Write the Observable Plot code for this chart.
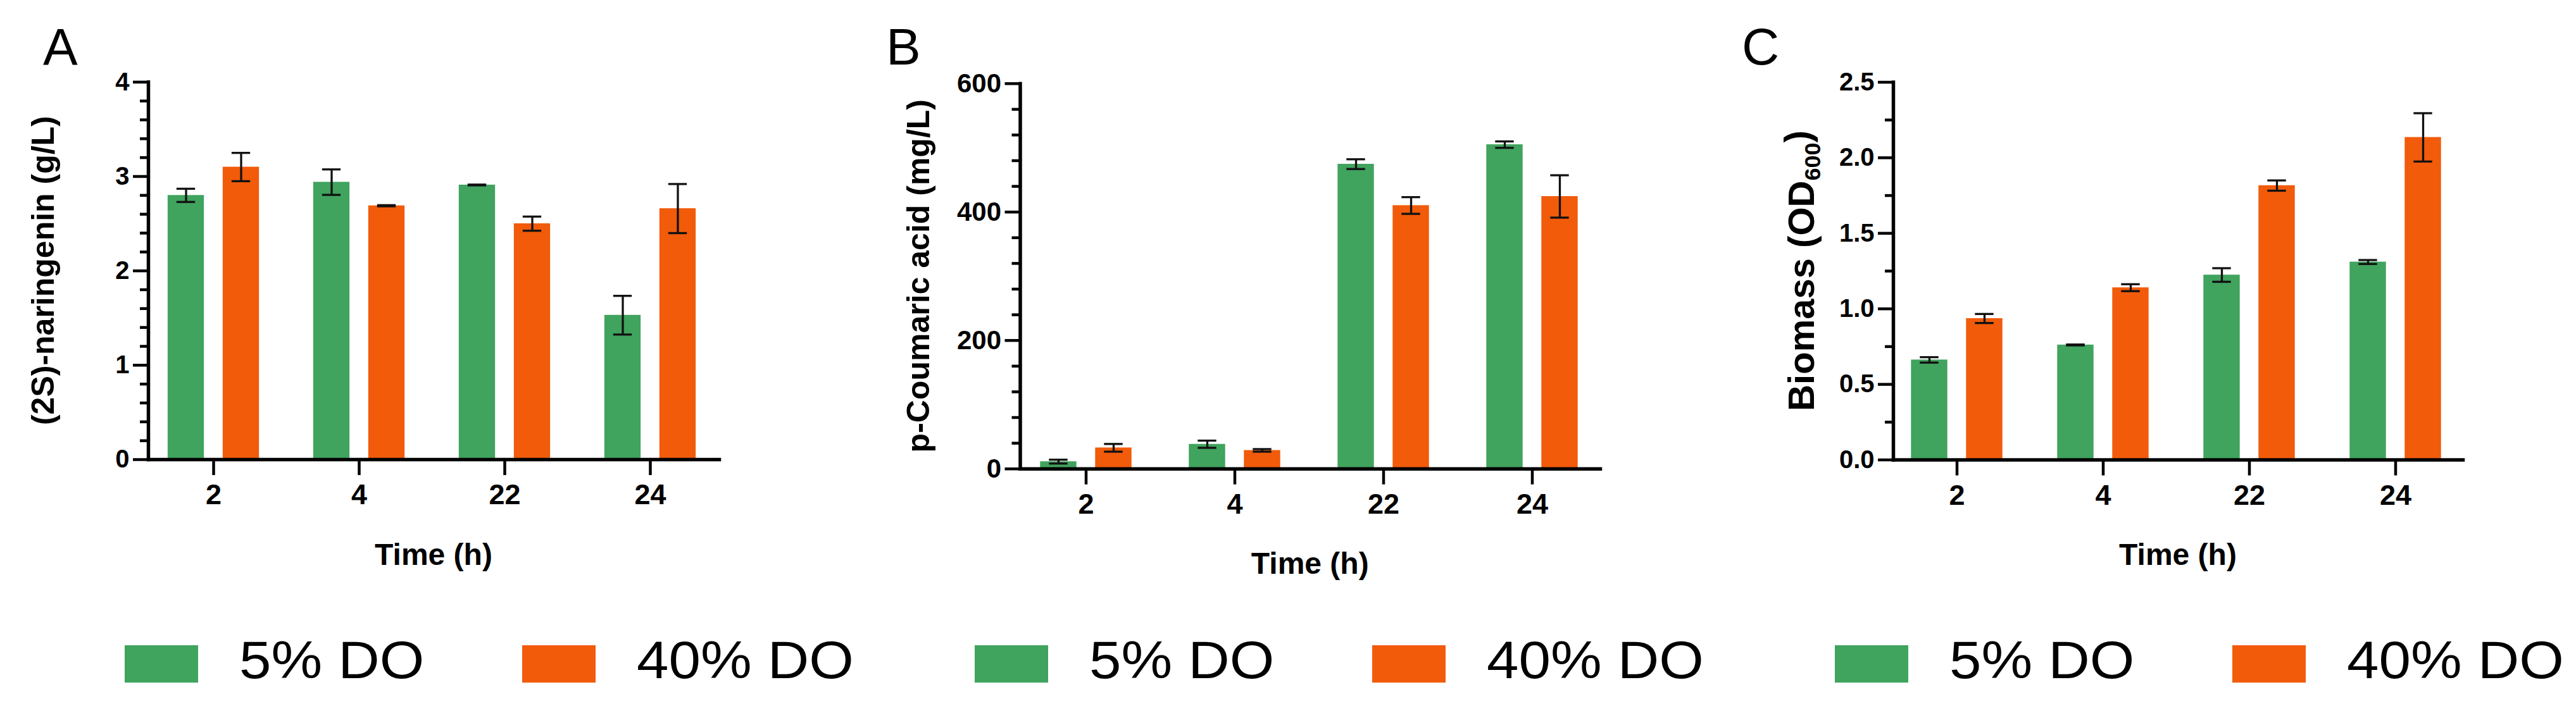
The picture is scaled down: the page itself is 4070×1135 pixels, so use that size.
<!DOCTYPE html>
<html><head><meta charset="utf-8">
<script src="https://cdn.jsdelivr.net/npm/d3@7"></script>
<script src="https://cdn.jsdelivr.net/npm/@observablehq/plot@0.6"></script>
<style>
html,body{margin:0;padding:0;background:#fff;}
#root{position:relative;width:4070px;height:1135px;overflow:hidden;background:#fff;}
.panel{position:absolute;top:0;}
.lg-sw{position:absolute;width:116px;height:59px;top:1020px;}
.lg-tx{position:absolute;top:1001px;font-family:"Liberation Sans",Arial,sans-serif;font-size:84px;line-height:84px;white-space:nowrap;color:#000;transform:scaleX(1.08);transform-origin:0 50%;}
</style></head><body><div id="root"></div>
<script>
// ---------- data ----------
const times = ["2", "4", "22", "24"];
const seriesNames = ["5% DO", "40% DO"];
const seriesColors = ["#40a35e", "#f15b0a"];

// Panel A: (2S)-naringenin (g/L)
const naringenin5 = [2.80, 2.94, 2.91, 1.53];
const naringenin5Err = [0.07, 0.135, 0.004, 0.205];
const naringenin40 = [3.10, 2.69, 2.50, 2.66];
const naringenin40Err = [0.15, 0.006, 0.075, 0.26];
const yTicksA = [0, 1, 2, 3, 4];
const yMinorA = [0.2, 0.4, 0.6, 0.8, 1.2, 1.4, 1.6, 1.8, 2.2, 2.4, 2.6, 2.8, 3.2, 3.4, 3.6, 3.8];

// Panel B: p-Coumaric acid (mg/L)
const coumaric5 = [11.3, 38.4, 474.6, 505.0];
const coumaric5Err = [3, 5.6, 7.6, 5];
const coumaric40 = [32.8, 28.8, 410.2, 424.3];
const coumaric40Err = [6, 2, 13, 33];
const yTicksB = [0, 200, 400, 600];
const yMinorB = [40, 80, 120, 160, 240, 280, 320, 360, 440, 480, 520, 560];

// Panel C: Biomass (OD600)
const biomass5 = [0.662, 0.761, 1.224, 1.31];
const biomass5Err = [0.018, 0.003, 0.045, 0.013];
const biomass40 = [0.936, 1.14, 1.816, 2.135];
const biomass40Err = [0.03, 0.023, 0.034, 0.16];
const yTicksC = [0, 0.5, 1.0, 1.5, 2.0, 2.5];
const yMinorC = [0.25, 0.75, 1.25, 1.75, 2.25];

// ---------- layout ----------
const H = 930;
const panels = [
  {letter: "A", left: 0, width: 1360, mL: 234, mR: 224, mT: 129.3, y0: 726, step: 230.7, first: 336,
   domain: [0, 4], ticks: yTicksA, minor: yMinorA, fmt: d3.format("d"), yFont: 40,
   v5: naringenin5, e5: naringenin5Err, v40: naringenin40, e40: naringenin40Err,
   title: ["(2S)-naringenin (g/L)"], titleSize: 50, titleX: 85, xTitleY: 893, letterX: 68},
  {letter: "B", left: 1360, width: 1360, mL: 251.5, mR: 192, mT: 131.7, y0: 740.7, step: 235.6, first: 354.7,
   domain: [0, 600], ticks: yTicksB, minor: yMinorB, fmt: d3.format("d"), yFont: 42,
   v5: coumaric5, e5: coumaric5Err, v40: coumaric40, e40: coumaric40Err,
   title: ["p-Coumaric acid (mg/L)"], titleSize: 50, titleX: 108, xTitleY: 907, letterX: 40},
  {letter: "C", left: 2720, width: 1350, mL: 271, mR: 179, mT: 129.5, y0: 726.5, step: 231.6, first: 370.2,
   domain: [0, 2.5], ticks: yTicksC, minor: yMinorC, fmt: d3.format(".1f"), yFont: 40,
   v5: biomass5, e5: biomass5Err, v40: biomass40, e40: biomass40Err,
   title: ["Biomass (OD", "600", ")"], titleSize: 58, titleX: 146, xTitleY: 893, letterX: 32}
];
const legendLeft = [197, 1540, 2899];

const root = document.getElementById("root");

panels.forEach((p) => {
  const rows5 = times.map((t, i) => ({time: t, value: p.v5[i], err: p.e5[i]}));
  const rows40 = times.map((t, i) => ({time: t, value: p.v40[i], err: p.e40[i]}));
  const barInset = (p.step - 58) / 2;
  const capInset = (p.step - 30) / 2;
  const marks = [];
  [[rows5, -43.5, seriesColors[0]], [rows40, 43.5, seriesColors[1]]].forEach(([data, dx, fill]) => {
    marks.push(Plot.barY(data, {x: "time", y: "value", fill, dx, insetLeft: barInset, insetRight: barInset}));
    marks.push(Plot.ruleX(data, {x: "time", y1: (d) => d.value - d.err, y2: (d) => d.value + d.err, dx, stroke: "#111", strokeWidth: 3.3}));
    marks.push(Plot.tickY(data, {x: "time", y: (d) => d.value + d.err, dx, insetLeft: capInset, insetRight: capInset, stroke: "#111", strokeWidth: 3.3}));
    marks.push(Plot.tickY(data, {x: "time", y: (d) => d.value - d.err, dx, insetLeft: capInset, insetRight: capInset, stroke: "#111", strokeWidth: 3.3}));
  });
  marks.push(Plot.axisY(p.minor, {tickSize: 13, tickFormat: () => "", strokeWidth: 4.5, label: null}));
  marks.push(Plot.axisY(p.ticks, {tickSize: 24, tickPadding: 6, tickFormat: p.fmt, strokeWidth: 4.5, fontSize: p.yFont, fontWeight: "bold", label: null}));
  marks.push(Plot.axisX({tickSize: 25, tickPadding: 14, strokeWidth: 4.5, fontSize: 45, fontWeight: "bold", label: null}));
  marks.push(Plot.frame({anchor: "left", stroke: "#000", strokeWidth: 5.5, strokeLinecap: "square"}));
  marks.push(Plot.frame({anchor: "bottom", stroke: "#000", strokeWidth: 5.5, strokeLinecap: "square"}));

  const chart = Plot.plot({
    width: p.width, height: H,
    marginLeft: p.mL, marginRight: p.mR, marginTop: p.mT, marginBottom: H - p.y0,
    x: {type: "band", domain: times, padding: 0, range: [p.first - p.step / 2, p.first + p.step * 3.5]},
    y: {domain: p.domain},
    style: {fontFamily: "'Liberation Sans', Arial, sans-serif", color: "#000", background: "#fff", overflow: "visible"},
    marks
  });
  const svg = d3.select(chart);
  // y-axis title
  const t = svg.append("text")
    .attr("transform", `translate(${p.titleX},${(p.mT + p.y0) / 2}) rotate(-90)`)
    .attr("text-anchor", "middle")
    .attr("fill", "#000")
    .style("font-family", "'Liberation Sans', Arial, sans-serif")
    .style("font-weight", "bold")
    .style("font-size", p.titleSize + "px");
  if (p.title.length === 1) {
    t.text(p.title[0]);
  } else {
    t.append("tspan").text(p.title[0]);
    t.append("tspan").attr("dy", "0.28em").style("font-size", "62%").text(p.title[1]);
    t.append("tspan").attr("dy", "-0.28em").text(p.title[2]);
  }
  // x-axis title
  svg.append("text")
    .attr("x", (p.mL + (p.width - p.mR)) / 2)
    .attr("y", p.xTitleY)
    .attr("text-anchor", "middle")
    .attr("fill", "#000")
    .style("font-family", "'Liberation Sans', Arial, sans-serif")
    .style("font-weight", "bold")
    .style("font-size", "48px")
    .text("Time (h)");
  // panel letter
  svg.append("text")
    .attr("x", p.letterX)
    .attr("y", 102)
    .attr("text-anchor", "start")
    .attr("fill", "#000")
    .style("font-family", "'Liberation Sans', Arial, sans-serif")
    .style("font-size", "82px")
    .text(p.letter);

  const div = document.createElement("div");
  div.className = "panel";
  div.style.left = p.left + "px";
  div.appendChild(chart);
  root.appendChild(div);
});

// legends (one under each panel)
legendLeft.forEach((L) => {
  seriesNames.forEach((name, i) => {
    const sw = document.createElement("div");
    sw.className = "lg-sw";
    sw.style.left = (L + i * 628) + "px";
    sw.style.background = seriesColors[i];
    root.appendChild(sw);
    const tx = document.createElement("div");
    tx.className = "lg-tx";
    tx.style.left = (L + i * 628 + 181) + "px";
    tx.textContent = name;
    root.appendChild(tx);
  });
});
</script></body></html>
